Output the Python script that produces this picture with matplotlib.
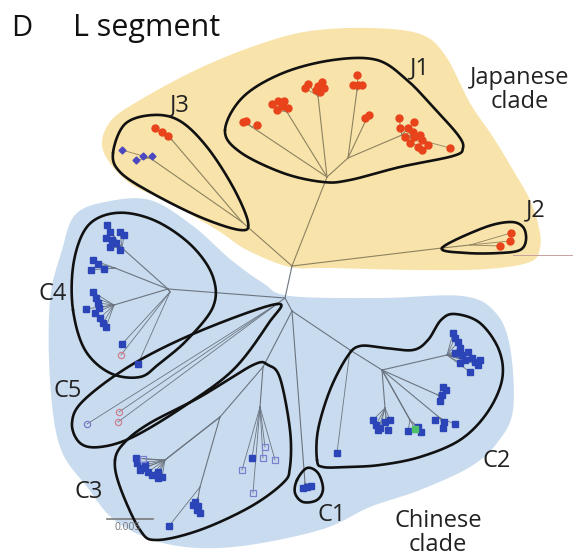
import numpy as np
import matplotlib
matplotlib.use("Agg")
import matplotlib.pyplot as plt

plt.rcParams['font.family'] = ['Open Sans', 'DejaVu Sans']

# background clade regions (pixel coords of the figure)
yellow_region = [(103, 150), (110, 122), (140, 100), (200, 68), (260, 44), (310, 31),
                 (370, 28), (420, 34), (445, 55), (470, 103), (493, 137), (513, 170),
                 (530, 200), (539, 228), (540, 248), (530, 262), (487, 269), (420, 270),
                 (330, 268), (290, 267), (247, 250), (217, 230), (170, 203), (128, 182)]
blue_region = [(75, 215), (105, 202), (150, 200), (193, 226), (230, 259), (263, 283),
               (290, 296), (380, 298), (462, 296), (495, 312), (510, 347), (513, 410),
               (497, 443), (470, 467), (420, 490), (370, 507), (320, 530), (233, 547),
               (167, 544), (117, 522), (87, 487), (60, 447), (50, 380), (50, 300), (62, 250)]

# clade outlines
loops = {
    'J1': [(225, 130), (243, 97), (283, 73), (333, 60), (377, 60), (407, 80), (433, 107),
           (458, 135), (463, 148), (453, 156), (400, 167), (350, 180), (323, 182),
           (283, 173), (240, 152)],
    'J2': [(442, 248), (483, 228), (510, 222), (523, 227), (526, 240), (520, 250),
           (500, 253), (467, 253)],
    'J3': [(113, 153), (125, 124), (153, 115), (180, 121), (207, 147), (233, 187),
           (248, 222), (240, 230), (200, 217), (150, 192), (120, 172)],
    'C4': [(73, 310), (73, 267), (83, 233), (100, 217), (127, 213), (160, 223),
           (193, 247), (213, 277), (213, 307), (187, 340), (160, 363), (140, 377),
           (110, 373), (85, 350)],
    'C5': [(277, 304), (200, 331), (133, 364), (84, 400), (72, 423), (80, 443),
           (100, 447), (133, 437), (183, 407), (233, 370), (268, 324)],
    'C3': [(115, 460), (125, 442), (150, 423), (200, 397), (253, 365), (268, 365),
           (280, 378), (290, 430), (290, 467), (283, 483), (250, 507), (200, 530),
           (157, 540), (140, 530), (120, 487)],
    'C1': [(297, 480), (307, 468), (318, 473), (323, 489), (317, 500), (303, 502),
           (295, 493)],
    'C2': [(317, 460), (318, 430), (330, 390), (347, 357), (360, 346), (385, 348),
           (413, 350), (428, 340), (441, 320), (455, 314), (480, 323), (499, 350),
           (502, 380), (487, 413), (460, 440), (420, 457), (380, 465), (347, 467),
           (323, 467)],
}

# tree: internal nodes and edges
nodes = {
    'jp': (292, 266), 'cn': (285, 298), 'mid': (292, 311),
    'j1': (327, 177), 'j1b': (348, 158), 'j2': (442, 248), 'j3': (242, 222),
    'c4': (168, 289), 'c5': (277, 304), 'c3': (263, 367), 'c3a': (220, 417),
    'c3b': (200, 487), 'c3c': (260, 407), 'c1': (305, 483), 'c2': (350, 350),
    'c2a': (382, 370),
}
edges = [('jp', 'j1'), ('jp', 'j3'), ('jp', 'j2'), ('jp', 'cn'), ('cn', 'c4'),
         ('cn', 'c5'), ('cn', 'mid'), ('mid', 'c3'), ('mid', 'c1'), ('mid', 'c2'),
         ('j1', 'j1b'), ('c3', 'c3a'), ('c3a', 'c3b'), ('c3', 'c3c'), ('c2', 'c2a')]

# leaf groups: (parent node, hub, marker style, leaves)
leaf_groups = [
    ('j1', (252, 127), 'red', [(243, 122), (246, 121), (257, 125)]),
    ('j1', (287, 112), 'red', [(272, 104), (278, 101), (282, 106), (288, 108), (277, 110), (284, 101)]),
    ('j1', (318, 96), 'red', [(305, 88), (308, 84), (318, 86), (322, 82), (320, 92), (316, 90), (324, 88)]),
    ('j1b', (357, 90), 'red', [(357, 75), (353, 85), (358, 85), (362, 85)]),
    ('j1b', (366, 120), 'red', [(365, 118), (369, 115)]),
    ('j1b', (402, 135), 'red', [(399, 118), (414, 122), (400, 128), (408, 128), (413, 132),
                               (405, 137), (414, 137), (420, 135), (422, 140), (410, 143),
                               (418, 147), (422, 150), (428, 145), (450, 148)]),
    ('j3', (172, 140), 'red', [(155, 128), (162, 132), (168, 136)]),
    ('j3', (150, 158), 'purple', [(122, 150), (136, 160), (143, 156), (152, 156)]),
    ('j2', (470, 245), 'red', [(511, 233), (510, 241), (500, 246)]),
    ('c4', (122, 248), 'blue', [(107, 225), (110, 232), (120, 232), (112, 240), (116, 243),
                               (110, 247), (120, 250), (124, 235), (106, 238)]),
    ('c4', (115, 268), 'blue', [(93, 260), (98, 264), (91, 270), (104, 269)]),
    ('c4', (114, 305), 'blue', [(93, 292), (96, 298), (98, 303), (86, 309), (95, 313),
                               (100, 318), (103, 323), (106, 327), (99, 308)]),
    ('c4', (170, 292), 'blue', [(122, 344), (138, 364)]),
    ('c4', (170, 292), 'pink', [(121, 355)]),
    ('c5', (277, 304), 'openpurple', [(87, 424)]),
    ('c5', (277, 304), 'pink', [(119, 412), (118, 422)]),
    ('c3a', (165, 460), 'blue', [(137, 463), (140, 470), (145, 465), (148, 472), (152, 475),
                                (158, 478), (162, 477), (158, 472), (143, 468), (136, 458)]),
    ('c3a', (165, 460), 'opensq', [(143, 459)]),
    ('c3b', (198, 498), 'blue', [(195, 502), (198, 506), (197, 510), (200, 513), (193, 505)]),
    ('c3b', (200, 487), 'blue', [(169, 526)]),
    ('c3c', (260, 407), 'opensq', [(242, 470), (253, 493), (263, 458), (275, 460), (265, 447)]),
    ('c3c', (260, 407), 'blue', [(252, 458)]),
    ('c1', (305, 483), 'blue', [(303, 488), (307, 487), (311, 486)]),
    ('c2', (350, 350), 'blue', [(337, 453)]),
    ('c2a', (447, 355), 'blue', [(453, 333), (455, 338), (458, 342), (460, 348), (455, 353),
                                (462, 355), (465, 360), (468, 352), (472, 358), (475, 362),
                                (480, 360), (478, 365), (470, 372), (460, 363)]),
    ('c2a', (385, 408), 'blue', [(373, 420), (376, 425), (380, 428), (385, 422), (390, 420),
                                (388, 430), (378, 430)]),
    ('c2a', (410, 420), 'blue', [(408, 431), (418, 427), (421, 432)]),
    ('c2a', (410, 420), 'green', [(415, 429)]),
    ('c2a', (438, 395), 'blue', [(443, 387), (446, 390), (442, 395), (440, 401)]),
    ('c2a', (440, 418), 'blue', [(435, 420), (444, 422), (443, 428), (455, 424)]),
]

marker_styles = {
    'red': dict(marker='o', ms=5, mfc='#e8431b', mec='#e8431b'),
    'purple': dict(marker='D', ms=3.5, mfc='#4b48c0', mec='#4b48c0'),
    'blue': dict(marker='s', ms=4.2, mfc='#2b45b8', mec='#2b45b8'),
    'pink': dict(marker='o', ms=4.5, mfc='none', mec='#d07e8e', mew=0.9),
    'openpurple': dict(marker='o', ms=4.5, mfc='none', mec='#7a78cc', mew=0.9),
    'opensq': dict(marker='s', ms=4.5, mfc='none', mec='#7b7fd0', mew=0.9),
    'green': dict(marker='s', ms=4.2, mfc='#4fc06a', mec='#4fc06a'),
}

labels = {'J1': (420, 68), 'J2': (536, 210), 'J3': (180, 105), 'C1': (332, 515),
          'C2': (497, 461), 'C3': (89, 492), 'C4': (53, 294), 'C5': (68, 391)}


def smooth_closed(pts, n=30):
    p = np.array(pts, dtype=float)
    k = len(p)
    out = []
    for i in range(k):
        p0, p1, p2, p3 = p[i - 1], p[i], p[(i + 1) % k], p[(i + 2) % k]
        t = np.linspace(0, 1, n, endpoint=False)[:, None]
        out.append(0.5 * ((2 * p1) + (-p0 + p2) * t + (2 * p0 - 5 * p1 + 4 * p2 - p3) * t ** 2
                          + (-p0 + 3 * p1 - 3 * p2 + p3) * t ** 3))
    out = np.vstack(out)
    return np.vstack([out, out[:1]])


fig = plt.figure(figsize=(5.87, 5.56), dpi=100)
ax = fig.add_axes([0, 0, 1, 1])
ax.set_xlim(0, 587)
ax.set_ylim(556, 0)
ax.axis('off')

yr = smooth_closed(yellow_region)
ax.fill(yr[:, 0], yr[:, 1], color='#f8e3aa', lw=0, zorder=0)
br = smooth_closed(blue_region)
ax.fill(br[:, 0], br[:, 1], color='#c9dcef', lw=0, zorder=0)

# tree branches
for a, b in edges:
    (x0, y0), (x1, y1) = nodes[a], nodes[b]
    col = '#8d8260' if y1 < 270 and a != 'cn' else '#6b7480'
    ax.plot([x0, x1], [y0, y1], color=col, lw=0.8, zorder=2)
ax.plot([513, 572], [255, 255], color='#c8a0a0', lw=0.7, zorder=1)

for parent, hub, style, leaves in leaf_groups:
    px, py = nodes[parent]
    col = '#8d8260' if style in ('red', 'purple') else '#6b7480'
    ax.plot([px, hub[0]], [py, hub[1]], color=col, lw=0.8, zorder=2)
    for lx, ly in leaves:
        ax.plot([hub[0], lx], [hub[1], ly], color=col, lw=0.6, zorder=2)
    xs = [l[0] for l in leaves]
    ys = [l[1] for l in leaves]
    ax.plot(xs, ys, ls='none', zorder=4, **marker_styles[style])

for name, pts in loops.items():
    c = smooth_closed(pts)
    ax.plot(c[:, 0], c[:, 1], color='#111111', lw=1.9, zorder=3, solid_capstyle='round')

for name, (x, y) in labels.items():
    ax.text(x, y, name, fontsize=17, ha='center', va='center', color='#222222', zorder=5)

ax.text(520, 90, 'Japanese\nclade', fontsize=17, ha='center', va='center',
        color='#222222', linespacing=1.05)
ax.text(438, 533, 'Chinese\nclade', fontsize=17, ha='center', va='center',
        color='#222222', linespacing=1.05)

ax.text(11, 36, 'D', fontsize=21, color='#111111', va='baseline')
ax.text(73, 36, 'L segment', fontsize=22, color='#111111', va='baseline')

# scale bar
ax.plot([107, 153], [519, 519], color='#7a7a7a', lw=1.2)
ax.text(128, 528, '0.005', fontsize=7.5, ha='center', va='center', color='#777777')

fig.savefig('out.png', dpi=100)
